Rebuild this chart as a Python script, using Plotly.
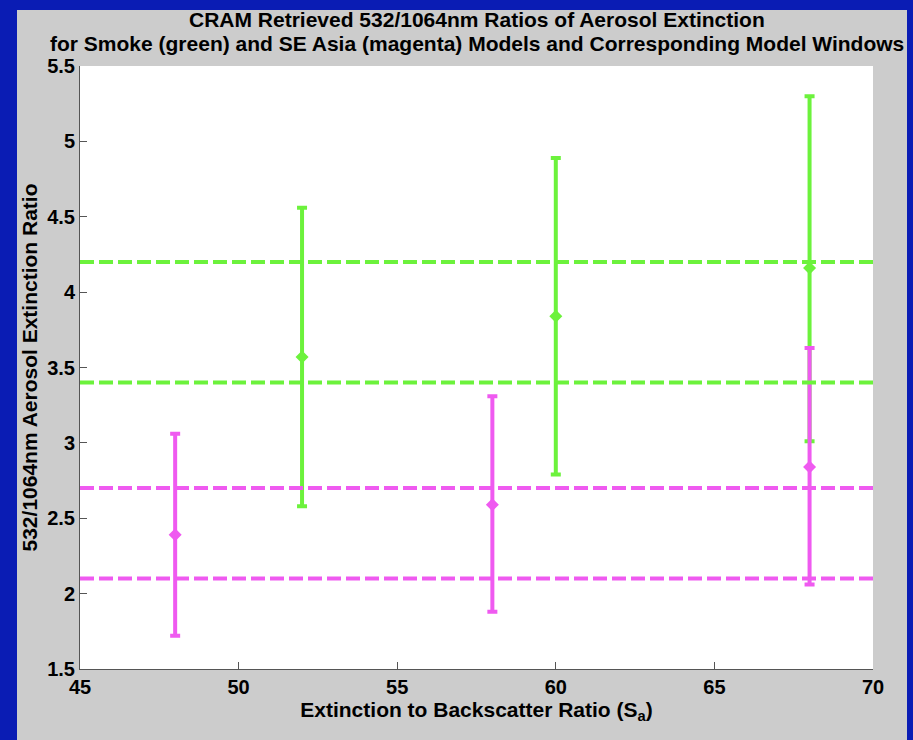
import plotly.graph_objects as go

# ---- data ----
smoke_x = [52, 60, 68]
smoke_mean = [3.57, 3.84, 4.16]
smoke_upper = [4.56, 4.89, 5.30]
smoke_lower = [2.58, 2.79, 3.01]

asia_x = [48, 58, 68]
asia_mean = [2.39, 2.59, 2.84]
asia_upper = [3.06, 3.31, 3.63]
asia_lower = [1.72, 1.88, 2.06]

smoke_window = [3.4, 4.2]
asia_window = [2.1, 2.7]
x_range = [45, 70]

y_ticks = [1.5, 2, 2.5, 3, 3.5, 4, 4.5, 5, 5.5]
y_ticktext = ["1.5", "2", "2.5", "3", "3.5", "4", "4.5", "5", "5.5"]
x_ticks = [45, 50, 55, 60, 65, 70]

title_lines = [
    "CRAM Retrieved 532/1064nm Ratios of Aerosol Extinction",
    "for Smoke (green) and SE Asia (magenta) Models and Corresponding Model Windows",
]

GREEN = "#6cf23c"
MAGENTA = "#ef5af0"
BLUE = "#0a1cb4"
GRAY = "#cccccc"
FONT = "Liberation Sans, Arial, sans-serif"

fig = go.Figure()

def err_trace(xs, mean, up, lo, color):
    return go.Scatter(
        x=xs, y=mean, mode="markers",
        marker=dict(symbol="diamond", size=10, color=color),
        error_y=dict(type="data", symmetric=False,
                     array=[u - m for u, m in zip(up, mean)],
                     arrayminus=[m - l for m, l in zip(mean, lo)],
                     color=color, thickness=4, width=5),
        showlegend=False, hoverinfo="skip")

fig.add_trace(err_trace(smoke_x, smoke_mean, smoke_upper, smoke_lower, GREEN))
fig.add_trace(err_trace(asia_x, asia_mean, asia_upper, asia_lower, MAGENTA))

for v in smoke_window:
    fig.add_trace(go.Scatter(x=x_range, y=[v, v], mode="lines",
                             line=dict(color=GREEN, width=4, dash="14px,5px"),
                             showlegend=False, hoverinfo="skip"))
for v in asia_window:
    fig.add_trace(go.Scatter(x=x_range, y=[v, v], mode="lines",
                             line=dict(color=MAGENTA, width=4, dash="14px,5px"),
                             showlegend=False, hoverinfo="skip"))

L, R, T, B = 80, 40, 66, 71
W, H = 913, 740
pw, ph = W - L - R, H - T - B

def px_to_paper_x(p):
    return (p - L) / pw

def px_to_paper_y(p):
    return (H - B - p) / ph

annotations = []
for line, ypx in zip(title_lines, [19, 43]):
    annotations.append(dict(
        text=line, showarrow=False, xref="paper", yref="paper",
        x=0.5, xanchor="center", y=px_to_paper_y(ypx), yanchor="middle",
        font=dict(family=FONT, size=21, color="black", weight="bold")))

fig.update_layout(
    width=W, height=H,
    margin=dict(l=L, r=R, t=T, b=B),
    paper_bgcolor=BLUE,
    plot_bgcolor="white",
    font=dict(family=FONT, size=20, color="black", weight="bold"),
    annotations=annotations,
    shapes=[
        dict(type="rect", xref="paper", yref="paper", layer="below",
             x0=px_to_paper_x(17), x1=px_to_paper_x(907),
             y0=px_to_paper_y(760), y1=px_to_paper_y(10),
             fillcolor=GRAY, line=dict(width=0)),
        dict(type="rect", xref="paper", yref="paper", layer="below",
             x0=0, x1=1, y0=0, y1=1,
             fillcolor="white", line=dict(width=0)),
    ],
    xaxis=dict(
        range=x_range, tickvals=x_ticks, ticks="inside", ticklen=7,
        tickcolor="#555555", showline=True, linecolor="#555555", linewidth=1,
        showgrid=False, zeroline=False, ticklabelstandoff=0,
        tickfont=dict(family=FONT, size=20, weight="bold"),
        title=dict(text="Extinction to Backscatter Ratio (S<sub>a</sub>)", standoff=2,
                   font=dict(family=FONT, size=21, weight="bold")),
    ),
    yaxis=dict(
        range=[1.5, 5.5], tickvals=y_ticks, ticktext=y_ticktext,
        ticks="inside", ticklen=7,
        tickcolor="#555555", showline=True, linecolor="#555555", linewidth=1,
        showgrid=False, zeroline=False, ticklabelstandoff=0,
        tickfont=dict(family=FONT, size=20, weight="bold"),
        title=dict(text="532/1064nm Aerosol Extinction Ratio", standoff=3,
                   font=dict(family=FONT, size=21, weight="bold")),
    ),
)

fig.write_html("out.html")
